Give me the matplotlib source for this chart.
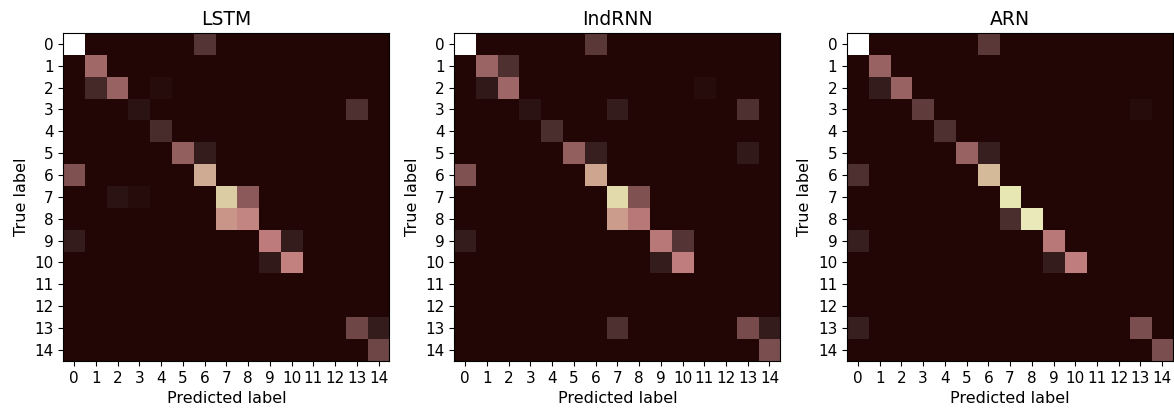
import numpy as np
import matplotlib
matplotlib.use('Agg')
import matplotlib.pyplot as plt

# confusion matrices (per-mille of max), rows = true label, cols = predicted label
labels = [str(i) for i in range(15)]
models = ['LSTM', 'IndRNN', 'ARN']

cm_lstm = [
    [1000, 0, 0, 0, 0, 0, 60, 0, 0, 0, 0, 0, 0, 0, 0],
    [0, 250, 0, 0, 0, 0, 0, 0, 0, 0, 0, 0, 0, 0, 0],
    [0, 35, 220, 0, 4, 0, 0, 2, 0, 0, 0, 0, 0, 0, 0],
    [0, 0, 0, 10, 0, 0, 0, 2, 0, 0, 0, 0, 0, 50, 0],
    [0, 0, 0, 0, 40, 0, 0, 0, 0, 0, 0, 0, 0, 0, 0],
    [0, 0, 0, 0, 0, 200, 18, 0, 2, 0, 0, 0, 0, 0, 0],
    [150, 0, 0, 0, 0, 0, 500, 0, 0, 0, 0, 0, 0, 0, 0],
    [0, 0, 10, 4, 0, 0, 0, 620, 180, 0, 0, 0, 0, 0, 0],
    [0, 0, 0, 0, 0, 2, 0, 430, 380, 0, 0, 0, 0, 0, 0],
    [18, 0, 0, 0, 0, 0, 0, 0, 0, 350, 18, 0, 0, 0, 0],
    [0, 0, 0, 0, 0, 0, 0, 0, 0, 12, 370, 0, 0, 0, 0],
    [0, 2, 0, 0, 0, 0, 0, 0, 0, 2, 2, 2, 0, 0, 0],
    [0, 2, 0, 0, 0, 0, 0, 0, 0, 0, 0, 0, 0, 0, 0],
    [0, 0, 0, 0, 0, 0, 0, 1, 0, 0, 0, 0, 0, 110, 15],
    [0, 0, 0, 0, 0, 0, 0, 0, 0, 0, 0, 0, 0, 0, 110],
]

cm_indrnn = [
    [1000, 0, 0, 0, 0, 0, 70, 0, 0, 0, 0, 0, 0, 0, 0],
    [0, 230, 50, 0, 0, 0, 0, 0, 0, 0, 0, 0, 0, 0, 0],
    [0, 12, 240, 0, 0, 0, 0, 0, 0, 0, 0, 4, 0, 0, 0],
    [0, 0, 0, 10, 0, 0, 0, 15, 0, 0, 0, 0, 0, 50, 0],
    [0, 0, 0, 0, 45, 0, 0, 0, 0, 0, 0, 0, 0, 0, 0],
    [0, 0, 0, 0, 0, 200, 20, 2, 0, 0, 0, 0, 0, 12, 0],
    [150, 0, 0, 0, 0, 0, 480, 0, 0, 0, 0, 0, 0, 0, 0],
    [0, 0, 0, 0, 0, 0, 0, 680, 150, 0, 0, 0, 0, 0, 1],
    [0, 0, 0, 0, 0, 0, 0, 450, 330, 0, 0, 0, 0, 0, 0],
    [15, 0, 0, 0, 0, 0, 0, 0, 0, 330, 60, 0, 0, 0, 0],
    [0, 0, 0, 0, 0, 0, 0, 0, 0, 15, 360, 0, 0, 0, 0],
    [2, 2, 0, 0, 0, 0, 0, 0, 0, 0, 0, 2, 0, 0, 0],
    [0, 1, 0, 0, 0, 0, 0, 0, 0, 0, 0, 0, 0, 0, 0],
    [0, 0, 0, 0, 0, 0, 0, 50, 0, 0, 0, 0, 0, 130, 15],
    [0, 0, 0, 0, 0, 0, 0, 0, 0, 0, 0, 0, 0, 0, 140],
]

cm_arn = [
    [1000, 0, 0, 0, 0, 1, 70, 0, 0, 0, 0, 0, 0, 0, 0],
    [0, 220, 0, 0, 0, 0, 0, 0, 0, 0, 0, 0, 0, 0, 0],
    [0, 15, 220, 0, 2, 0, 0, 0, 0, 0, 0, 0, 0, 0, 0],
    [0, 0, 0, 80, 0, 0, 0, 0, 0, 0, 0, 0, 0, 3, 0],
    [0, 0, 0, 0, 50, 0, 0, 0, 0, 0, 0, 0, 0, 0, 0],
    [0, 0, 0, 0, 0, 220, 20, 0, 2, 0, 0, 0, 0, 0, 0],
    [50, 0, 0, 0, 0, 0, 550, 0, 0, 0, 0, 0, 0, 0, 0],
    [0, 0, 2, 2, 0, 0, 0, 740, 0, 0, 0, 0, 0, 0, 0],
    [0, 0, 0, 0, 0, 0, 0, 45, 760, 0, 0, 0, 0, 0, 0],
    [20, 0, 0, 0, 0, 0, 0, 0, 0, 330, 0, 0, 0, 0, 0],
    [0, 0, 0, 0, 0, 0, 0, 0, 0, 15, 360, 0, 0, 0, 0],
    [2, 2, 0, 0, 0, 0, 0, 0, 0, 0, 0, 1, 0, 0, 0],
    [1, 2, 0, 0, 0, 0, 0, 0, 0, 0, 0, 0, 0, 0, 0],
    [20, 0, 0, 0, 0, 0, 0, 0, 2, 0, 0, 0, 0, 140, 0],
    [0, 0, 0, 0, 0, 0, 0, 0, 0, 0, 0, 0, 0, 0, 140],
]

matrices = [cm_lstm, cm_indrnn, cm_arn]

fig = plt.figure(figsize=(11.74, 4.11), dpi=100)
lefts = [0.054, 0.387, 0.7215]

for left, name, cm in zip(lefts, models, matrices):
    ax = fig.add_axes([left, 0.122, 0.2777, 0.798])
    data = np.array(cm, dtype=float)
    # small negative vmin so the empty cells come out brownish like the original
    ax.imshow(data, cmap='pink', vmin=-0.005 * data.max(), vmax=data.max(),
              interpolation='nearest', aspect='auto')
    ax.set_xticks(range(len(labels)))
    ax.set_yticks(range(len(labels)))
    ax.set_xticklabels(labels, fontsize=11)
    ax.set_yticklabels(labels, fontsize=11)
    ax.set_xlabel('Predicted label', fontsize=11.5)
    ax.set_ylabel('True label', fontsize=11.5)
    ax.set_title(name, fontsize=13.5)

fig.savefig('out.png', dpi=100)
